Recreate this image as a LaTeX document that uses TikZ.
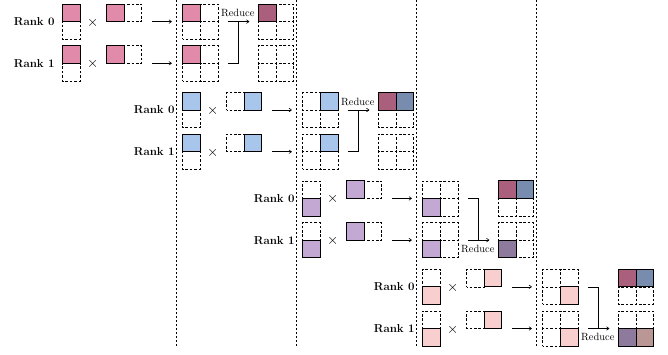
\documentclass[tikz,border=0pt]{standalone}
\usepackage{fontspec}
\usetikzlibrary{arrows.meta}
\definecolor{cpink}{RGB}{226,138,170}
\definecolor{cblue}{RGB}{168,198,236}
\definecolor{cpurple}{RGB}{194,168,210}
\definecolor{clpink}{RGB}{248,206,206}
\definecolor{dpink}{RGB}{170,96,124}
\definecolor{dblue}{RGB}{120,140,175}
\definecolor{dpurple}{RGB}{142,122,156}
\definecolor{dbrown}{RGB}{186,150,148}
\tikzset{
 emp/.style={draw, dash pattern=on 2.6pt off 1.8pt, dash phase=1.3pt, line width=0.6pt, minimum size=17.6pt, inner sep=0pt, outer sep=0pt, anchor=north west},
 ful/.style={draw, solid, line width=0.8pt, fill=#1, minimum size=17.6pt, inner sep=0pt, outer sep=0pt, anchor=north west},
 ranklab/.style={font=\fontsize{11.5}{13}\selectfont\bfseries, anchor=east, inner sep=0pt},
 redlab/.style={font=\fontsize{10.5}{12}\selectfont, inner sep=0pt},
 timeslab/.style={font=\fontsize{15}{17}\selectfont, inner sep=0pt},
 conn/.style={-{To[length=3pt,width=4pt]}, line width=0.6pt},
 brk/.style={line width=0.6pt},
 sepline/.style={dash pattern=on 2.4pt off 1.6pt, line width=0.6pt}
}
\newcommand\cellnode[5]{%
 \ifnum#4=1 \node[ful=#5] (#1) at (#2,#3) {};\else\node[emp] (#1) at (#2,#3) {};\fi}
% #1 k, #2 X, #3 row top, #4 arow, #5 bcol, #6 colour, #7 rank
\newcommand\stagerow[7]{%
 \node[ranklab] (L#1r#7) at (#2-7.5,#3+17.6) {Rank #7};
 \foreach \i in {0,1}{%
  \pgfmathtruncatemacro\fl{\i==#4}%
  \cellnode{A#1r#7i\i}{#2}{#3+17.6*\i}{\fl}{#6}}
 \node[timeslab] (T#1r#7) at (#2+30.5,#3+18.5) {$\times$};
 \foreach \j in {0,1}{%
  \pgfmathtruncatemacro\fl{\j==#5}%
  \cellnode{B#1r#7j\j}{#2+44.2+17.6*\j}{#3}{\fl}{#6}}
 \coordinate (P#1r#7) at (#2+89.5,#3+17.6);
 \coordinate (Q#1r#7) at (#2+109.5,#3+17.6);
 \draw[conn] (P#1r#7) -- (Q#1r#7);
 \foreach \i in {0,1}{\foreach \j in {0,1}{%
  \pgfmathtruncatemacro\fl{and(\i==#4,\j==#5)}%
  \cellnode{R#1r#7i\i j\j}{#2+120.4+17.6*\j}{#3+17.6*\i}{\fl}{#6}}}
}
% #1 k, #2 X, #3 row top, #4 rank, #5..#8 colours (empty = dashed)
\newcommand\scell[4]{%
 \ifx\relax#4\relax\node[emp] (#1) at (#2,#3) {};\else\node[ful=#4] (#1) at (#2,#3) {};\fi}
\newcommand\sblock[8]{%
 \scell{S#1r#4a}{#2+196}{#3}{#5}
 \scell{S#1r#4b}{#2+213.6}{#3}{#6}
 \scell{S#1r#4c}{#2+196}{#3+17.6}{#7}
 \scell{S#1r#4d}{#2+213.6}{#3+17.6}{#8}
}
\begin{document}
\begin{tikzpicture}[x=1pt,y=-1pt]
\useasboundingbox (0,0) rectangle (668,354);
\foreach \sx in {176.5,296.5,416.3,536}{\draw[sepline] (\sx,0) -- (\sx,346);}
% stage 0
\stagerow{0}{62.3}{4}{0}{0}{cpink}{0}
\stagerow{0}{62.3}{45.7}{0}{0}{cpink}{1}
\sblock{0}{62.3}{4}{0}{dpink}{}{}{}
\sblock{0}{62.3}{45.7}{1}{}{}{}{}
% stage 1
\stagerow{1}{182.3}{92.4}{0}{1}{cblue}{0}
\stagerow{1}{182.3}{134.1}{0}{1}{cblue}{1}
\sblock{1}{182.3}{92.4}{0}{dpink}{dblue}{}{}
\sblock{1}{182.3}{134.1}{1}{}{}{}{}
% stage 2
\stagerow{2}{302.3}{180.8}{1}{0}{cpurple}{0}
\stagerow{2}{302.3}{222.5}{1}{0}{cpurple}{1}
\sblock{2}{302.3}{180.8}{0}{dpink}{dblue}{}{}
\sblock{2}{302.3}{222.5}{1}{}{}{dpurple}{}
% stage 3
\stagerow{3}{422.3}{269.2}{1}{1}{clpink}{0}
\stagerow{3}{422.3}{310.9}{1}{1}{clpink}{1}
\sblock{3}{422.3}{269.2}{0}{dpink}{dblue}{}{}
\sblock{3}{422.3}{310.9}{1}{}{}{dpurple}{dbrown}
% reduce connectors, stages 0 and 1 (to rank 0)
\foreach \k/\X/\Y in {0/62.3/4, 1/182.3/92.4}{
 \coordinate (U\k) at (\X+166,\Y+17.6);
 \coordinate (V\k) at (\X+187,\Y+17.6);
 \coordinate (W\k) at (\X+166,\Y+59.3);
 \coordinate (M\k) at (\X+176,\Y+17.6);
 \draw[conn] (U\k) -- (V\k);
 \draw[brk] (W\k) -| (M\k);
 \node[redlab] (D\k) at (\X+175.5,\Y+9.2) {Reduce};
}
% reduce connectors, stages 2 and 3 (to rank 1)
\foreach \k/\X/\Y in {2/302.3/180.8, 3/422.3/269.2}{
 \coordinate (U\k) at (\X+166,\Y+17.6);
 \coordinate (V\k) at (\X+187,\Y+59.3);
 \coordinate (W\k) at (\X+166,\Y+59.3);
 \coordinate (M\k) at (\X+176,\Y+59.3);
 \draw[conn] (W\k) -- (V\k);
 \draw[brk] (U\k) -| (M\k);
 \node[redlab] (D\k) at (\X+175.5,\Y+68) {Reduce};
}
\end{tikzpicture}
\end{document}
